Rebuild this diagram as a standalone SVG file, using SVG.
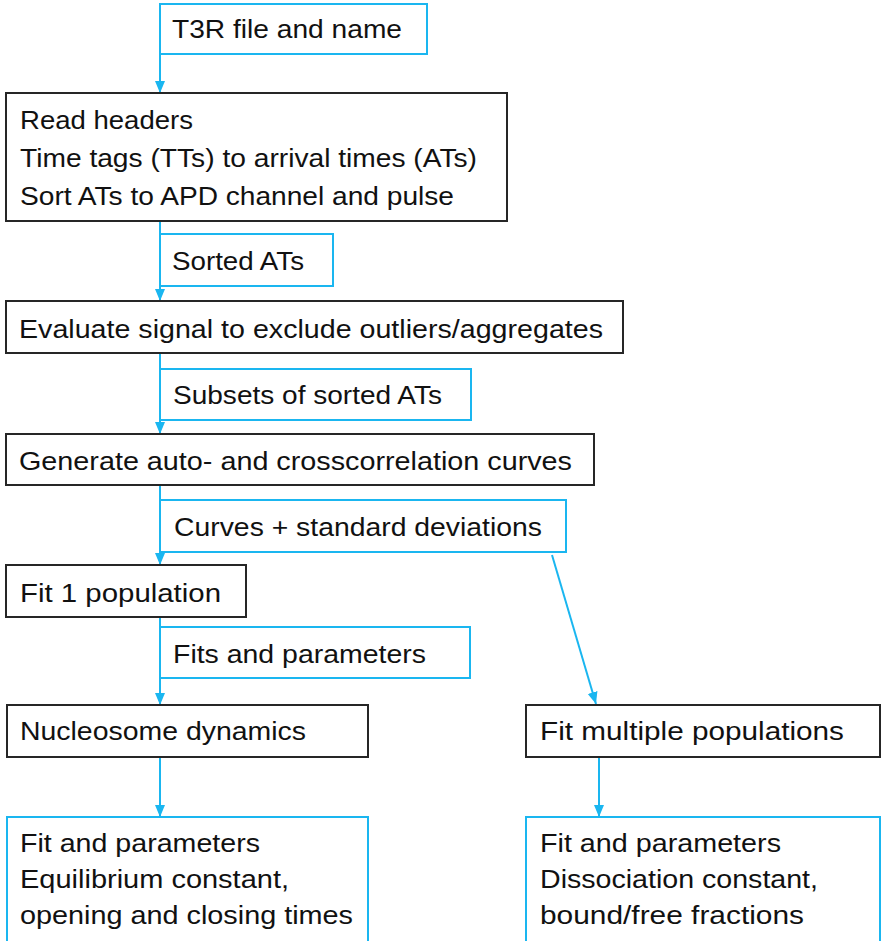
<svg xmlns="http://www.w3.org/2000/svg" width="882" height="941" viewBox="0 0 882 941">
<style>
.b{fill:#fff;stroke:#262626;stroke-width:2}
.c{fill:#fff;stroke:#1AB6F0;stroke-width:2}
.t{font-family:"Liberation Sans",Arial,sans-serif;font-size:25px;fill:#111}
.l{fill:none;stroke:#1AB6F0;stroke-width:2}
</style>
<defs>
<marker id="a" markerUnits="userSpaceOnUse" markerWidth="12" markerHeight="12" viewBox="0 0 12 12" refX="12" refY="6" orient="auto">
<path d="M0,1 L12,6 L0,11 Z" fill="#1AB6F0"/>
</marker>
</defs>
<g id="connectors">
<line class="l" x1="160" y1="4" x2="160" y2="93" marker-end="url(#a)"/>
<line class="l" x1="160" y1="221" x2="160" y2="301" marker-end="url(#a)"/>
<line class="l" x1="160" y1="353" x2="160" y2="434" marker-end="url(#a)"/>
<line class="l" x1="160" y1="485" x2="160" y2="565" marker-end="url(#a)"/>
<line class="l" x1="552" y1="555" x2="596" y2="704" marker-end="url(#a)"/>
<line class="l" x1="160" y1="617" x2="160" y2="705" marker-end="url(#a)"/>
<line class="l" x1="160" y1="757" x2="160" y2="817" marker-end="url(#a)"/>
<line class="l" x1="599" y1="757" x2="599" y2="817" marker-end="url(#a)"/>
</g>
<g id="t3r">
<rect class="c" x="160" y="4" width="267" height="50"/>
<text class="t" x="172" y="38" textLength="230" lengthAdjust="spacingAndGlyphs">T3R file and name</text>
</g>
<g id="read">
<rect class="b" x="6" y="93" width="501" height="128"/>
<text class="t" x="20" y="129" textLength="173" lengthAdjust="spacingAndGlyphs">Read headers</text>
<text class="t" x="20" y="167" textLength="457" lengthAdjust="spacingAndGlyphs">Time tags (TTs) to arrival times (ATs)</text>
<text class="t" x="20" y="205" textLength="434" lengthAdjust="spacingAndGlyphs">Sort ATs to APD channel and pulse</text>
</g>
<g id="sorted">
<rect class="c" x="160" y="234" width="173" height="52"/>
<text class="t" x="172" y="270" textLength="132" lengthAdjust="spacingAndGlyphs">Sorted ATs</text>
</g>
<g id="evaluate">
<rect class="b" x="6" y="301" width="617" height="52"/>
<text class="t" x="19" y="338" textLength="584" lengthAdjust="spacingAndGlyphs">Evaluate signal to exclude outliers/aggregates</text>
</g>
<g id="subsets">
<rect class="c" x="160" y="369" width="311" height="51"/>
<text class="t" x="173" y="404" textLength="269" lengthAdjust="spacingAndGlyphs">Subsets of sorted ATs</text>
</g>
<g id="generate">
<rect class="b" x="6" y="434" width="588" height="51"/>
<text class="t" x="19" y="470" textLength="553" lengthAdjust="spacingAndGlyphs">Generate auto- and crosscorrelation curves</text>
</g>
<g id="curves">
<rect class="c" x="160" y="500" width="406" height="52"/>
<text class="t" x="174" y="536" textLength="368" lengthAdjust="spacingAndGlyphs">Curves + standard deviations</text>
</g>
<g id="fit1">
<rect class="b" x="6" y="565" width="240" height="52"/>
<text class="t" x="20" y="602" textLength="201" lengthAdjust="spacingAndGlyphs">Fit 1 population</text>
</g>
<g id="fits">
<rect class="c" x="160" y="627" width="310" height="51"/>
<text class="t" x="173" y="663" textLength="253" lengthAdjust="spacingAndGlyphs">Fits and parameters</text>
</g>
<g id="nucleosome">
<rect class="b" x="7" y="705" width="361" height="52"/>
<text class="t" x="20" y="740" textLength="286" lengthAdjust="spacingAndGlyphs">Nucleosome dynamics</text>
</g>
<g id="multiple">
<rect class="b" x="526" y="705" width="354" height="52"/>
<text class="t" x="540" y="740" textLength="304" lengthAdjust="spacingAndGlyphs">Fit multiple populations</text>
</g>
<g id="result-left">
<rect class="c" x="7" y="817" width="361" height="140"/>
<text class="t" x="20" y="852" textLength="240" lengthAdjust="spacingAndGlyphs">Fit and parameters</text>
<text class="t" x="20" y="888" textLength="269" lengthAdjust="spacingAndGlyphs">Equilibrium constant,</text>
<text class="t" x="20" y="924" textLength="333" lengthAdjust="spacingAndGlyphs">opening and closing times</text>
</g>
<g id="result-right">
<rect class="c" x="526" y="817" width="354" height="140"/>
<text class="t" x="540" y="852" textLength="241" lengthAdjust="spacingAndGlyphs">Fit and parameters</text>
<text class="t" x="540" y="888" textLength="278" lengthAdjust="spacingAndGlyphs">Dissociation constant,</text>
<text class="t" x="540" y="924" textLength="264" lengthAdjust="spacingAndGlyphs">bound/free fractions</text>
</g>
</svg>
